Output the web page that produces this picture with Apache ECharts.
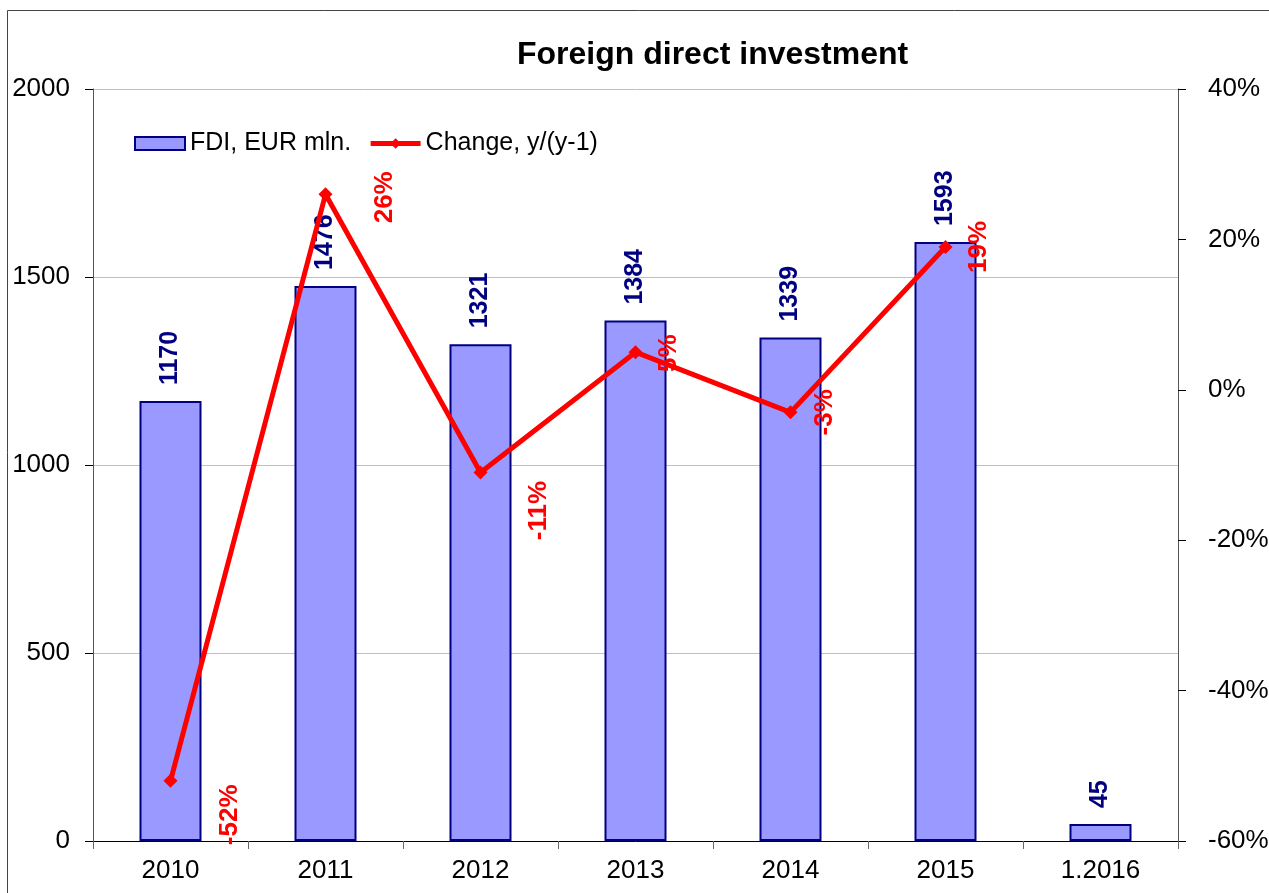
<!DOCTYPE html>
<html>
<head>
<meta charset="utf-8">
<script src="https://cdn.jsdelivr.net/npm/echarts@6/dist/echarts.min.js"></script>
<style>
  html, body { margin: 0; padding: 0; background: #fff; }
  #chart { width: 1269px; height: 893px; }
</style>
</head>
<body>
<div id="chart"></div>
<script>
const categories = ['2010', '2011', '2012', '2013', '2014', '2015', '1.2016']
const fdiValues = [1170, 1476, 1321, 1384, 1339, 1593, 45]
const changePct = [-52, 26, -11, 5, -3, 19, null]
const leftTicks = { min: 0, max: 2000, interval: 500 }
const rightTicks = { min: -60, max: 40, interval: 20 }

// the original labels were moved by hand; screen offsets in px [dx, dy] from the point
const changeLabelShift = [[59, 34], [59, 3], [58, 38], [33, 1], [34, 0], [33, 0]]

const font = 'Liberation Sans, Arial, sans-serif'
const chart = echarts.init(document.getElementById('chart'), null, { renderer: 'canvas' })

chart.setOption({
  animation: false,
  textStyle: { fontFamily: font },
  title: {
    text: 'Foreign direct investment',
    left: 512,
    top: 34,
    textStyle: { fontFamily: font, fontSize: 32, fontWeight: 'bold', color: '#000' },
  },
  graphic: [
    {
      type: 'rect',
      shape: { x: 7.5, y: 10.5, width: 1300, height: 1000 },
      style: { fill: 'none', stroke: '#444', lineWidth: 1 },
      silent: true,
    },
  ],
  legend: {
    left: 129,
    top: 126,
    itemWidth: 50,
    itemHeight: 13,
    itemGap: 17,
    textStyle: { fontFamily: font, fontSize: 25, color: '#000' },
    data: [
      { name: 'FDI, EUR mln.', icon: 'rect' },
      { name: 'Change, y/(y-1)', lineStyle: { width: 5 } },
    ],
  },
  grid: { left: 93, right: 91, top: 89, bottom: 52, containLabel: false, outerBoundsMode: 'none' },
  xAxis: {
    type: 'category',
    data: categories,
    axisLine: { lineStyle: { color: '#000', width: 1 } },
    axisTick: { show: true, alignWithLabel: false, length: 8, lineStyle: { color: '#666' } },
    axisLabel: { color: '#000', fontSize: 26, margin: 17, fontFamily: font },
  },
  yAxis: [
    {
      type: 'value',
      ...leftTicks,
      axisLine: { show: true, lineStyle: { color: '#555' } },
      axisTick: { show: true, length: 8, lineStyle: { color: '#000' } },
      axisLabel: { color: '#000', fontSize: 26, margin: 23, fontFamily: font, formatter: (v) => String(v) },
      splitLine: { lineStyle: { color: '#c0c0c0', width: 1 } },
    },
    {
      type: 'value',
      ...rightTicks,
      position: 'right',
      axisLine: { show: true, lineStyle: { color: '#555' } },
      axisTick: { show: true, length: 8, lineStyle: { color: '#000' } },
      axisLabel: { color: '#000', fontSize: 26, margin: 30, formatter: '{value}%', fontFamily: font },
      splitLine: { show: false },
    },
  ],
  series: [
    {
      name: 'FDI, EUR mln.',
      type: 'bar',
      data: fdiValues,
      barWidth: 62,
      itemStyle: { color: '#9999ff', borderColor: '#000080', borderWidth: 2 },
      label: {
        show: true,
        position: 'top',
        distance: 16,
        rotate: 90,
        align: 'left',
        verticalAlign: 'middle',
        color: '#000080',
        fontSize: 25,
        fontWeight: 'bold',
        fontFamily: font,
      },
    },
    {
      name: 'Change, y/(y-1)',
      type: 'line',
      yAxisIndex: 1,
      // label offset is applied in the rotated frame, so swap it round
      data: changePct.map((v, i) => {
        const s = changeLabelShift[i] || [0, 0]
        return { value: v, label: { offset: [-s[1], s[0]] } }
      }),
      symbol: 'diamond',
      symbolSize: 14,
      lineStyle: { color: '#ff0000', width: 5 },
      itemStyle: { color: '#ff0000' },
      label: {
        show: true,
        position: 'inside',
        rotate: 90,
        align: 'center',
        verticalAlign: 'middle',
        color: '#ff0000',
        fontSize: 26,
        fontWeight: 'bold',
        fontFamily: font,
        formatter: (p) => (p.value == null ? '' : p.value + '%'),
      },
    },
  ],
})
</script>
</body>
</html>
